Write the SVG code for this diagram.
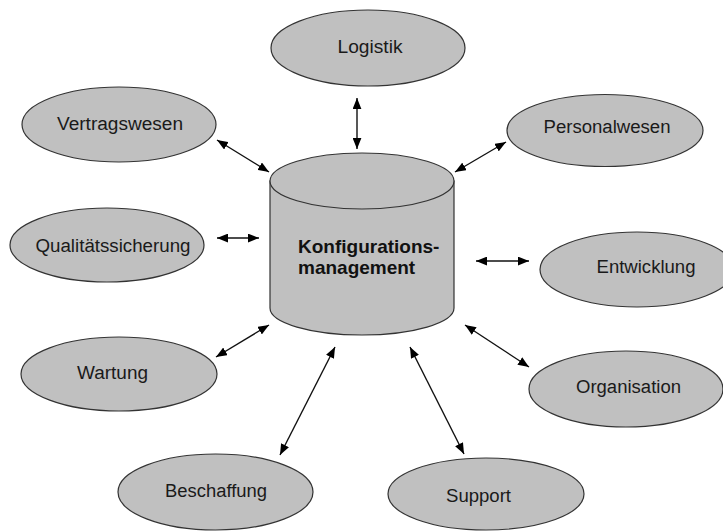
<svg xmlns="http://www.w3.org/2000/svg" width="723" height="532" viewBox="0 0 723 532">
  <style>
    .node ellipse, .node path { fill: #c0c0c0; stroke: #333333; stroke-width: 1.2; }
    .label { font-family: "Liberation Sans", Arial, sans-serif; font-size: 18px; fill: #1a1a1a; text-anchor: middle; }
    .hub { font-family: "Liberation Sans", Arial, sans-serif; font-size: 19px; font-weight: bold; fill: #111111; }
    .link { stroke: #111111; stroke-width: 1.4; fill: none; marker-start: url(#head); marker-end: url(#head); }
  </style>
  <defs>
    <marker id="head" markerUnits="userSpaceOnUse" markerWidth="11" markerHeight="9" refX="10" refY="4" orient="auto-start-reverse" viewBox="0 0 10 8">
      <path d="M0,0 L10,4 L0,8 Z" fill="#000000"/>
    </marker>
  </defs>

  <rect width="723" height="532" fill="#ffffff"/>

  <!-- central repository drawn as a cylinder -->
  <g id="konfigurationsmanagement" class="node">
    <path d="M270,181 L270,308 A92,27 0 0 0 454,308 L454,181 Z"/>
    <ellipse cx="362" cy="181" rx="92" ry="28"/>
    <text class="hub" x="298" y="253">Konfigurations-</text>
    <text class="hub" x="298" y="274">management</text>
  </g>

  <g id="logistik" class="node">
    <ellipse cx="368" cy="48" rx="97" ry="38"/>
    <text class="label" x="370" y="53" textLength="65" lengthAdjust="spacingAndGlyphs">Logistik</text>
  </g>

  <g id="vertragswesen" class="node">
    <ellipse cx="119" cy="124.5" rx="97" ry="37.5"/>
    <text class="label" x="120" y="130" textLength="126" lengthAdjust="spacingAndGlyphs">Vertragswesen</text>
  </g>

  <g id="personalwesen" class="node">
    <ellipse cx="605" cy="130.5" rx="98" ry="36"/>
    <text class="label" x="607" y="133" textLength="127" lengthAdjust="spacingAndGlyphs">Personalwesen</text>
  </g>

  <g id="qualitaetssicherung" class="node">
    <ellipse cx="107" cy="245" rx="97" ry="37"/>
    <text class="label" x="113" y="252" textLength="155" lengthAdjust="spacingAndGlyphs">Qualitätssicherung</text>
  </g>

  <g id="entwicklung" class="node">
    <ellipse cx="637" cy="269.5" rx="97" ry="37.5"/>
    <text class="label" x="646" y="273" textLength="99" lengthAdjust="spacingAndGlyphs">Entwicklung</text>
  </g>

  <g id="wartung" class="node">
    <ellipse cx="119" cy="374" rx="98" ry="37"/>
    <text class="label" x="112.5" y="379" textLength="71" lengthAdjust="spacingAndGlyphs">Wartung</text>
  </g>

  <g id="organisation" class="node">
    <ellipse cx="626" cy="389" rx="97" ry="38"/>
    <text class="label" x="628.5" y="393" textLength="105" lengthAdjust="spacingAndGlyphs">Organisation</text>
  </g>

  <g id="beschaffung" class="node">
    <ellipse cx="215.5" cy="492" rx="97.5" ry="38"/>
    <text class="label" x="216" y="497" textLength="102" lengthAdjust="spacingAndGlyphs">Beschaffung</text>
  </g>

  <g id="support" class="node">
    <ellipse cx="486" cy="494" rx="98" ry="36"/>
    <text class="label" x="478.5" y="502" textLength="65" lengthAdjust="spacingAndGlyphs">Support</text>
  </g>

  <!-- two-way connectors between the hub and each area -->
  <g id="connectors">
    <line class="link" x1="357" y1="98" x2="357" y2="149"/>
    <line class="link" x1="217" y1="140" x2="269" y2="172"/>
    <line class="link" x1="506" y1="142" x2="455" y2="172"/>
    <line class="link" x1="217" y1="238" x2="259" y2="238"/>
    <line class="link" x1="476" y1="261" x2="529" y2="261"/>
    <line class="link" x1="216" y1="357" x2="269" y2="325"/>
    <line class="link" x1="465" y1="325" x2="529" y2="367"/>
    <line class="link" x1="335" y1="347" x2="280" y2="455"/>
    <line class="link" x1="410" y1="347" x2="464" y2="454"/>
  </g>
</svg>
